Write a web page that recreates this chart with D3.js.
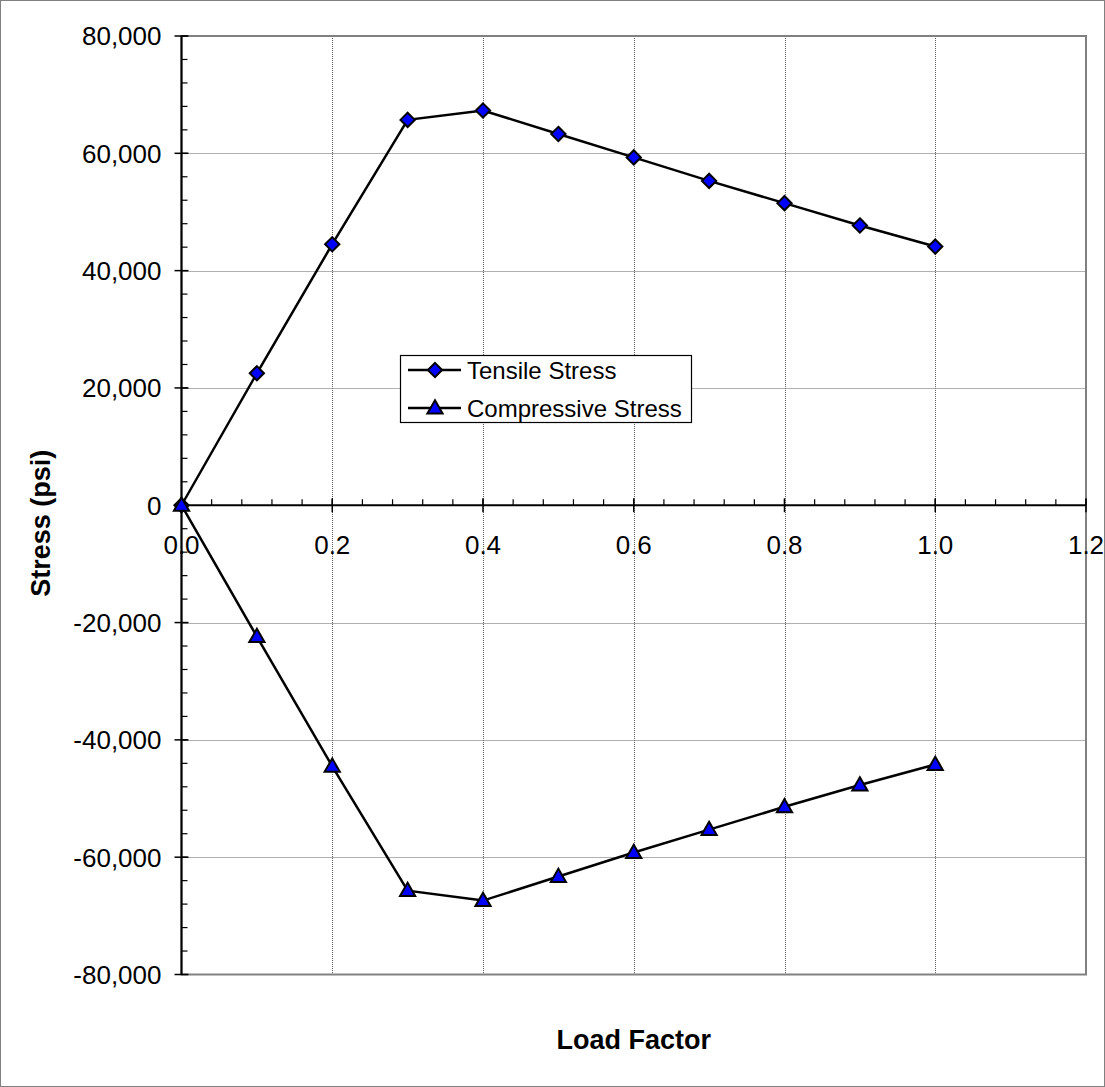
<!DOCTYPE html>
<html><head><meta charset="utf-8">
<script src="https://cdn.jsdelivr.net/npm/d3@7"></script>
<style>body{margin:0;background:#fff}svg{display:block}text{font-family:"Liberation Sans",Arial,sans-serif}</style>
</head><body>
<svg id="c" width="1105" height="1087"></svg>
<script>
const loadFactor = [0, 0.1, 0.2, 0.3, 0.4, 0.5, 0.6, 0.7, 0.8, 0.9, 1.0];
const tensile = [0, 22500, 44500, 65700, 67300, 63300, 59300, 55300, 51500, 47700, 44100];
const compressive = [0, -22400, -44500, -65700, -67400, -63300, -59200, -55300, -51400, -47700, -44200];
const seriesNames = ["Tensile Stress", "Compressive Stress"];
const xTicks = [0, 0.2, 0.4, 0.6, 0.8, 1.0, 1.2];
const xMinor = d3.range(0, 1.2001, 0.04);
const yTicks = [-80000, -60000, -40000, -20000, 0, 20000, 40000, 60000, 80000];
const yMinor = d3.range(-80000, 80001, 4000);

const svg = d3.select("#c");
const L = 181.5, R = 1086, T = 36, B = 974.5;
const x = d3.scaleLinear().domain([0, 1.2]).range([L, R]);
const y = d3.scaleLinear().domain([-80000, 80000]).range([B, T]);

// outer border
svg.append("rect").attr("x", 0.5).attr("y", 0.5).attr("width", 1104).attr("height", 1086)
  .attr("fill", "#fff").attr("stroke", "#808080");

// gridlines
const g = svg.append("g");
g.selectAll(".gy").data(yTicks.filter(v => v !== 0 && Math.abs(v) !== 80000)).join("line")
  .attr("x1", L).attr("x2", R).attr("y1", d => Math.round(y(d)) + 0.5).attr("y2", d => Math.round(y(d)) + 0.5)
  .attr("stroke", "#606060").attr("stroke-width", 1).attr("stroke-dasharray", "1,1");
g.selectAll(".gx").data(xTicks.filter(v => v > 0 && v < 1.2)).join("line")
  .attr("y1", T).attr("y2", B).attr("x1", d => Math.round(x(d)) + 0.5).attr("x2", d => Math.round(x(d)) + 0.5)
  .attr("stroke", "#606060").attr("stroke-width", 1).attr("stroke-dasharray", "1,1");

// plot border
svg.append("rect").attr("x", L).attr("y", T).attr("width", R - L).attr("height", B - T)
  .attr("fill", "none").attr("stroke", "#808080").attr("stroke-width", 2);

const fmtY = d => d3.format(",")(d).replace("\u2212", "-");

// Y axis
const yAx = svg.append("g").attr("transform", `translate(${L},0)`);
yAx.append("line").attr("y1", T).attr("y2", B).attr("stroke", "#000").attr("stroke-width", 2);
yAx.selectAll(".ym").data(yMinor).join("line")
  .attr("x1", 0).attr("x2", 6).attr("y1", d => y(d)).attr("y2", d => y(d)).attr("stroke", "#000").attr("stroke-width", 1.2);
yAx.selectAll(".yM").data(yTicks).join("line")
  .attr("x1", -7).attr("x2", 7).attr("y1", d => y(d)).attr("y2", d => y(d)).attr("stroke", "#000").attr("stroke-width", 1.5);
yAx.selectAll(".yl").data(yTicks).join("text")
  .attr("x", -20).attr("y", d => y(d)).attr("dy", "0.36em").attr("text-anchor", "end")
  .attr("font-size", 26).text(fmtY);

// X axis at y=0
const x0 = y(0);
const xAx = svg.append("g").attr("transform", `translate(0,${x0})`);
xAx.append("line").attr("x1", L).attr("x2", R).attr("stroke", "#000").attr("stroke-width", 2);
xAx.selectAll(".xm").data(xMinor).join("line")
  .attr("x1", d => x(d)).attr("x2", d => x(d)).attr("y1", 0).attr("y2", -6).attr("stroke", "#000").attr("stroke-width", 1.2);
xAx.selectAll(".xM").data(xTicks).join("line")
  .attr("x1", d => x(d)).attr("x2", d => x(d)).attr("y1", -7).attr("y2", 7).attr("stroke", "#000").attr("stroke-width", 1.5);
xAx.selectAll(".xl").data(xTicks).join("text")
  .attr("x", d => x(d)).attr("y", 49).attr("text-anchor", "middle")
  .attr("font-size", 26).text(d => d3.format(".1f")(d));

// axis titles
svg.append("text").attr("transform", `translate(50,${y(0) + 18}) rotate(-90)`).attr("text-anchor", "middle")
  .attr("font-size", 27).attr("font-weight", "bold").text("Stress (psi)");
svg.append("text").attr("x", (L + R) / 2).attr("y", 1049).attr("text-anchor", "middle")
  .attr("font-size", 27).attr("font-weight", "bold").text("Load Factor");

// series
const line = d3.line().x(d => x(d[0])).y(d => y(d[1]));
const tData = loadFactor.map((v, i) => [v, tensile[i]]);
const cData = loadFactor.map((v, i) => [v, compressive[i]]);
svg.append("path").datum(tData).attr("d", line).attr("fill", "none").attr("stroke", "#000").attr("stroke-width", 2.5);
svg.append("path").datum(cData).attr("d", line).attr("fill", "none").attr("stroke", "#000").attr("stroke-width", 2.5);

const diamond = d3.symbol().type(d3.symbolDiamond2).size(130);
const tri = d3.symbol().type(d3.symbolTriangle).size(100);
svg.selectAll(".dm").data(tData).join("path").attr("d", diamond)
  .attr("transform", d => `translate(${x(d[0])},${y(d[1])})`)
  .attr("fill", "#0000FF").attr("stroke", "#000").attr("stroke-width", 2);
svg.selectAll(".tr").data(cData).join("path").attr("d", tri)
  .attr("transform", d => `translate(${x(d[0])},${y(d[1]) + 1})`)
  .attr("fill", "#0000FF").attr("stroke", "#000").attr("stroke-width", 2);

// legend
const lg = svg.append("g");
lg.append("rect").attr("x", 400.5).attr("y", 355.5).attr("width", 291).attr("height", 67)
  .attr("fill", "#fff").attr("stroke", "#000").attr("stroke-width", 1.2);
const rows = [370, 408];
seriesNames.forEach((name, i) => {
  lg.append("line").attr("x1", 408).attr("x2", 461).attr("y1", rows[i]).attr("y2", rows[i])
    .attr("stroke", "#000").attr("stroke-width", 2.5);
  lg.append("path").attr("d", i === 0 ? diamond : tri)
    .attr("transform", i === 0 ? `translate(435,${rows[i]})` : `translate(435,${rows[i] + 1})`)
    .attr("fill", "#0000FF").attr("stroke", "#000").attr("stroke-width", 2);
  lg.append("text").attr("x", 467).attr("y", rows[i]).attr("dy", "0.36em")
    .attr("font-size", 24).text(name);
});
</script>
</body></html>
